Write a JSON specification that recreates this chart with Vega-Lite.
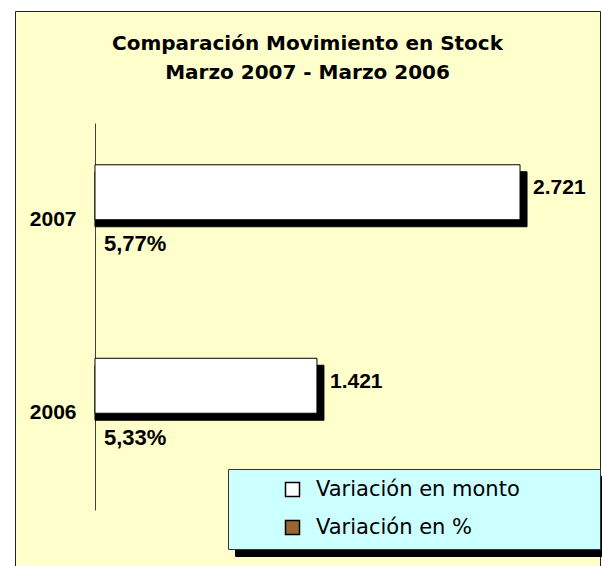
{
  "$schema": "https://vega.github.io/schema/vega-lite/v6.json",
  "width": 585,
  "height": 555,
  "autosize": {"type": "none"},
  "padding": {"left": 15, "top": 11, "right": 2, "bottom": 0},
  "background": "white",
  "title": {
    "text": ["Comparación Movimiento en Stock", "Marzo 2007 - Marzo 2006"],
    "font": "DejaVu Sans",
    "fontSize": 20,
    "fontWeight": "bold",
    "color": "black",
    "lineHeight": 29,
    "anchor": "middle",
    "offset": -72
  },
  "data": {
    "values": [
      {"anio": "2007", "serie": "Variación en monto", "valor": 2721},
      {"anio": "2006", "serie": "Variación en monto", "valor": 1421},
      {"anio": "2007", "serie": "Variación en %", "valor": 0.0577},
      {"anio": "2006", "serie": "Variación en %", "valor": 0.0533}
    ]
  },
  "encoding": {
    "y": {
      "field": "anio",
      "type": "nominal",
      "sort": ["2007", "2006"],
      "scale": {"range": [112, 499], "paddingInner": 0, "paddingOuter": 0},
      "axis": {
        "title": null,
        "ticks": false,
        "offset": -80,
        "domainColor": "#404040",
        "domainWidth": 1,
        "labelFont": "Liberation Sans",
        "labelFontWeight": "bold",
        "labelFontSize": 21,
        "labelColor": "black",
        "labelPadding": 19,
        "labelAngle": 0,
        "grid": false
      }
    },
    "x": {
      "field": "valor",
      "type": "quantitative",
      "stack": null,
      "scale": {"domain": [-512, 3233], "nice": false},
      "axis": null
    }
  },
  "layer": [
    {
      "transform": [{"filter": "datum.serie === 'Variación en monto'"}],
      "mark": {"type": "bar", "height": {"band": 0.2842}, "yOffset": -20.5, "xOffset": 7, "x2Offset": 7},
      "encoding": {
        "color": {
          "field": "serie",
          "type": "nominal",
          "scale": {"range": ["black"]},
          "legend": null
        },
        "stroke": {
          "field": "serie",
          "type": "nominal",
          "sort": "descending",
          "scale": {"range": ["black", "black"]},
          "legend": {
            "orient": "none",
            "legendX": 220,
            "legendY": 319,
            "title": null,
            "padding": 0,
            "fillColor": null,
            "strokeColor": null,
            "symbolType": "M-1,-0.21505H1V0.21505H-1Z",
            "symbolSize": 138384,
            "symbolFillColor": "black",
            "symbolStrokeColor": "black",
            "symbolStrokeWidth": 1,
            "symbolOpacity": 1,
            "labelExpr": "''",
            "labelOffset": 0,
            "labelFontSize": 1
          }
        },
        "opacity": {
          "field": "serie",
          "type": "nominal",
          "scale": {"domain": ["Variación en monto"], "range": [1, 1]},
          "legend": {
            "orient": "none",
            "legendX": 213,
            "legendY": 312,
            "title": null,
            "padding": 0,
            "fillColor": null,
            "strokeColor": null,
            "symbolType": "M-1,-0.21505H1V0.21505H-1Z",
            "symbolSize": 138384,
            "symbolFillColor": "#CCFFFF",
            "symbolStrokeColor": "#333333",
            "symbolStrokeWidth": 1,
            "symbolOpacity": 1,
            "labelExpr": "''",
            "labelOffset": 0,
            "labelFontSize": 1
          }
        }
      }
    },
    {
      "mark": {"type": "bar", "stroke": "black", "strokeWidth": 1},
      "encoding": {
        "yOffset": {
          "field": "serie",
          "type": "nominal",
          "sort": ["Variación en monto", "Variación en %"],
          "scale": {"paddingInner": 0, "paddingOuter": 0.76}
        },
        "strokeOpacity": {"condition": {"test": "datum.serie === 'Variación en %'", "value": 0}, "value": 1},
        "fill": {
          "field": "serie",
          "type": "nominal",
          "sort": ["Variación en monto", "Variación en %"],
          "scale": {"range": ["white", "#996633"]},
          "legend": {
            "orient": "none",
            "legendX": 267,
            "legendY": 468,
            "title": null,
            "padding": 0,
            "fillColor": null,
            "strokeColor": null,
            "symbolType": "square",
            "symbolSize": 196,
            "symbolStrokeColor": "black",
            "symbolStrokeWidth": 1.5,
            "symbolOffset": 0,
            "labelFont": "DejaVu Sans",
            "labelFontSize": 21,
            "labelColor": "black",
            "labelOffset": 13,
            "rowPadding": 16,
            "labelLimit": 400
          }
        }
      }
    },
    {
      "transform": [{"filter": "datum.serie === 'Variación en monto'"}],
      "mark": {"type": "text", "align": "left", "baseline": "middle", "dx": 13, "dy": -4, "font": "Liberation Sans", "fontWeight": "bold", "fontSize": 21, "color": "black"},
      "encoding": {
        "yOffset": {"field": "serie", "type": "nominal", "sort": ["Variación en monto", "Variación en %"]},
        "text": {"field": "valor", "type": "quantitative", "format": ",.0f"}
      }
    },
    {
      "transform": [{"filter": "datum.serie === 'Variación en %'"}],
      "mark": {"type": "text", "align": "left", "baseline": "middle", "dx": 9, "dy": -3, "font": "Liberation Sans", "fontWeight": "bold", "fontSize": 22, "color": "black"},
      "encoding": {
        "yOffset": {"field": "serie", "type": "nominal", "sort": ["Variación en monto", "Variación en %"]},
        "text": {"field": "valor", "type": "quantitative", "format": ".2%"}
      }
    }
  ],
  "config": {
    "view": {"fill": "#FFFFCC", "stroke": "#222222"},
    "locale": {"number": {"decimal": ",", "thousands": ".", "grouping": [3], "currency": ["$", ""]}}
  }
}
